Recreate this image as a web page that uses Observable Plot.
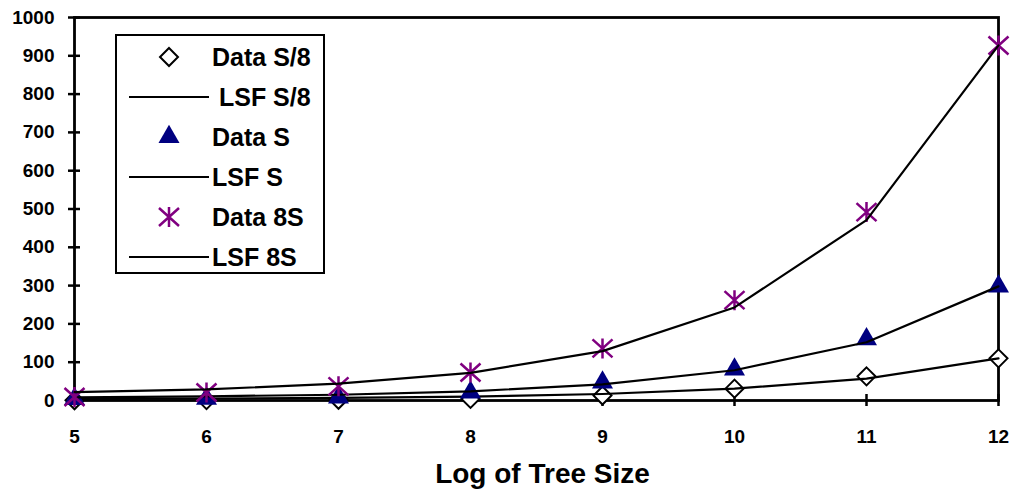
<!DOCTYPE html>
<html>
<head>
<meta charset="utf-8">
<script src="https://cdn.jsdelivr.net/npm/d3@7"></script>
<script src="https://cdn.jsdelivr.net/npm/@observablehq/plot@0.6"></script>
<style>
  html, body { margin: 0; padding: 0; background: #fff; }
  #wrap { position: relative; width: 1013px; height: 493px; font-family: "Liberation Sans", Arial, sans-serif; }
  #legend { position: absolute; left: 115px; top: 34px; width: 210px; height: 240px; box-sizing: border-box;
            border: 2px solid #000; background: #fff; padding-top: 1px; }
  .row { display: flex; align-items: center; height: 40px; }
  .row svg { flex: none; }
  .row span { font-weight: bold; font-size: 25px; line-height: 40px; color: #000; white-space: pre; }
</style>
</head>
<body>
<div id="wrap"></div>
<script>
const logSize = [5, 6, 7, 8, 9, 10, 11, 12];
const dataS8 = [0.5, 1, 2, 4, 13, 31, 63, 110];
const lsfS8  = [4, 5, 7, 10, 17, 31, 57, 110];
const dataS  = [4, 5, 8, 21, 47, 81, 160, 298];
const lsfS   = [8, 11, 15, 24, 42, 79, 152, 298];
const data8S = [9, 21, 37, 73, 136, 262, 492, 927];
const lsf8S  = [22, 29, 44, 72, 129, 243, 471, 927];
const xTicks = [5, 6, 7, 8, 9, 10, 11, 12];
const yTicks = [0, 100, 200, 300, 400, 500, 600, 700, 800, 900, 1000];
const legendLabels = ["Data S/8", "\u00a0LSF S/8", "Data S", "LSF S", "Data 8S", "LSF 8S"];

const NAVY = "#000080", PURPLE = "#800080";
const fmt = d3.format("d");

// asterisk: vertical bar plus an X
const asterisk = {
  draw(ctx, size) {
    const r = Math.sqrt(size / Math.PI);
    ctx.moveTo(0, -r); ctx.lineTo(0, r);
    ctx.moveTo(-r, -r * 0.9); ctx.lineTo(r, r * 0.9);
    ctx.moveTo(-r, r * 0.9); ctx.lineTo(r, -r * 0.9);
  }
};

const rows = (ys) => logSize.map((x, i) => ({x, y: ys[i]}));

const plot = Plot.plot({
  width: 1013,
  height: 493,
  marginLeft: 74,
  marginRight: 15,
  marginTop: 17,
  marginBottom: 93,
  style: {fontFamily: "'Liberation Sans', Arial, sans-serif", color: "#000", background: "#fff"},
  x: {domain: [5, 12]},
  y: {domain: [0, 1000]},
  marks: [
    Plot.axisY({ticks: yTicks, tickSize: 12, dx: 6, strokeWidth: 2.5, tickFormat: () => "", label: null}),
    Plot.axisX({ticks: xTicks, tickSize: 12, dy: -6, strokeWidth: 2.5, tickFormat: () => "", label: null}),
    Plot.text(yTicks, {y: d => d, text: fmt, frameAnchor: "left", textAnchor: "end", dx: -20, lineAnchor: "middle", fontSize: 19, fontWeight: "bold", fill: "#000"}),
    Plot.text(xTicks, {x: d => d, text: fmt, frameAnchor: "bottom", dy: 36, lineAnchor: "middle", fontSize: 19, fontWeight: "bold", fill: "#000"}),
    Plot.frame({stroke: "#000", strokeWidth: 2.8}),
    Plot.text(["Log of Tree Size"], {frameAnchor: "bottom", dy: 74, dx: 6, fontSize: 28, fontWeight: "bold", lineAnchor: "middle", fill: "#000"}),
    Plot.dot(rows(dataS8), {x: "x", y: "y", symbol: "diamond2", r: 8.1, fill: "#fff", stroke: "#000", strokeWidth: 2}),
    Plot.line(rows(lsfS8), {x: "x", y: "y", stroke: "#000", strokeWidth: 2.2}),
    Plot.dot(rows(dataS), {x: "x", y: "y", symbol: "triangle", r: 7.8, fill: NAVY, stroke: "none"}),
    Plot.line(rows(lsfS), {x: "x", y: "y", stroke: "#000", strokeWidth: 2.2}),
    Plot.dot(rows(data8S), {x: "x", y: "y", symbol: asterisk, r: 10, fill: "none", stroke: PURPLE, strokeWidth: 2.5}),
    Plot.line(rows(lsf8S), {x: "x", y: "y", stroke: "#000", strokeWidth: 2.2})
  ]
});

const wrap = document.getElementById("wrap");
wrap.appendChild(plot);

// Legend
const legend = document.createElement("div");
legend.id = "legend";
const symDefs = ["diamond", "line", "triangle", "line", "asterisk", "line"];
symDefs.forEach((type, i) => {
  const row = document.createElement("div");
  row.className = "row";
  const svg = d3.create("svg").attr("width", 95).attr("height", 40);
  const g = svg.append("g").attr("transform", "translate(52,20)");
  if (type === "line") {
    g.append("line").attr("x1", -40).attr("x2", 40).attr("stroke", "#000").attr("stroke-width", 2.2);
  } else if (type === "diamond") {
    g.append("path").attr("d", d3.symbol(d3.symbolDiamond2, Math.PI * 8.1 * 8.1)()).attr("fill", "#fff").attr("stroke", "#000").attr("stroke-width", 2);
  } else if (type === "triangle") {
    g.append("path").attr("d", d3.symbol(d3.symbolTriangle, Math.PI * 7.8 * 7.8)()).attr("fill", NAVY);
  } else {
    g.append("path").attr("d", d3.symbol(asterisk, Math.PI * 100)()).attr("fill", "none").attr("stroke", PURPLE).attr("stroke-width", 2.5);
  }
  row.appendChild(svg.node());
  const span = document.createElement("span");
  span.textContent = legendLabels[i];
  row.appendChild(span);
  legend.appendChild(row);
});
wrap.appendChild(legend);
</script>
</body>
</html>
